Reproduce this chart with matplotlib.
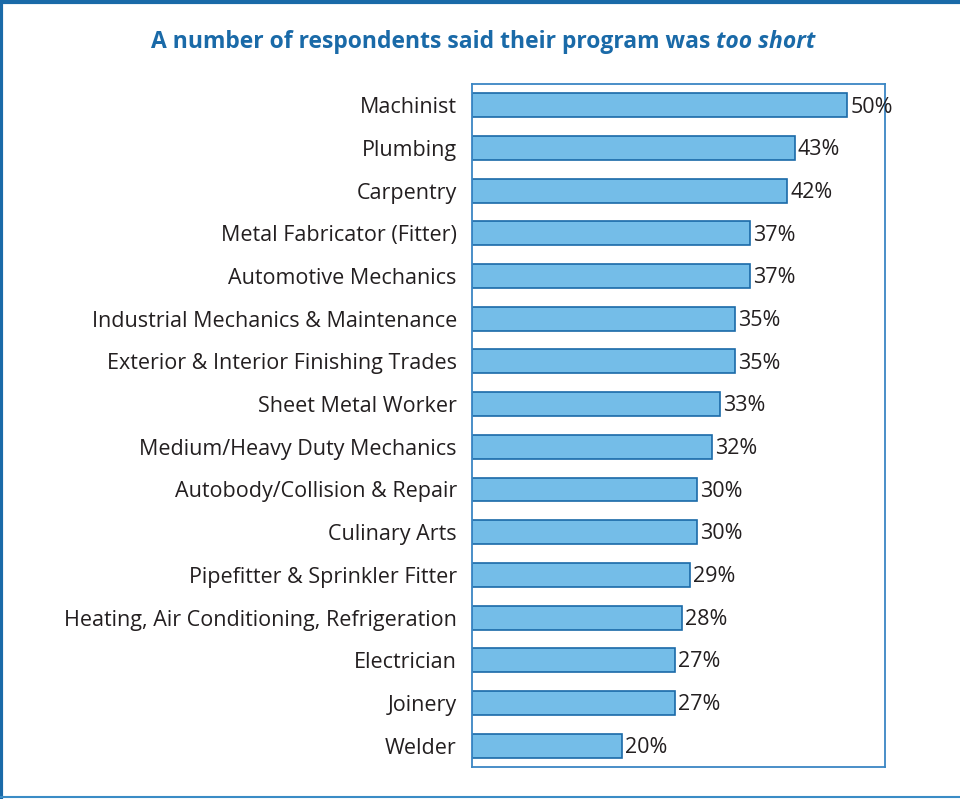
import matplotlib.pyplot as plt
from matplotlib.lines import Line2D

trades = ['Machinist', 'Plumbing', 'Carpentry', 'Metal Fabricator (Fitter)',
          'Automotive Mechanics', 'Industrial Mechanics & Maintenance',
          'Exterior & Interior Finishing Trades', 'Sheet Metal Worker',
          'Medium/Heavy Duty Mechanics', 'Autobody/Collision & Repair',
          'Culinary Arts', 'Pipefitter & Sprinkler Fitter',
          'Heating, Air Conditioning, Refrigeration', 'Electrician',
          'Joinery', 'Welder']
too_short = [50, 43, 42, 37, 37, 35, 35, 33, 32, 30, 30, 29, 28, 27, 27, 20]

plt.rcParams['font.family'] = ['Open Sans', 'DejaVu Sans']

blue = '#1a6aa8'
bar_fill = '#74bde8'

fig = plt.figure(figsize=(9.6, 7.99), dpi=100)
ax = fig.add_axes([0.4917, 0.0401, 0.4302, 0.8548])

ypos = list(range(len(trades)))
ax.barh(ypos, too_short, height=0.56, color=bar_fill, edgecolor=blue, linewidth=1.2)
for y, v in zip(ypos, too_short):
    ax.text(v + 0.4, y + 0.04, f'{v}%', va='center', ha='left', fontsize=15.5, color='#231f20')

ax.set_xlim(0, 55)
ax.set_ylim(len(trades) - 0.5, -0.5)
ax.set_yticks(ypos)
ax.set_yticklabels(trades, fontsize=15.5, color='#231f20')
ax.tick_params(axis='y', length=0, pad=11)
ax.set_xticks([])
for s in ax.spines.values():
    s.set_color('#3a86c4')
    s.set_linewidth(1.3)

# title: upright part followed by an italic tail, centred as a whole
ty = 0.947
t1 = fig.text(0, ty, 'A number of respondents said their program was ', ha='left', va='center',
              fontsize=16.5, fontweight='bold', color=blue)
t2 = fig.text(0, ty, 'too short', ha='left', va='center',
              fontsize=16.5, fontweight='bold', fontstyle='italic', color=blue)
fig.canvas.draw()
w1 = t1.get_window_extent().width / fig.bbox.width
w2 = t2.get_window_extent().width / fig.bbox.width
x0 = 0.503 - (w1 + w2) / 2
t1.set_x(x0)
t2.set_x(x0 + w1)

# outer frame
fig.lines.append(Line2D([0, 1], [0.998, 0.998], transform=fig.transFigure, color=blue, lw=3))
fig.lines.append(Line2D([0.0015, 0.0015], [0, 1], transform=fig.transFigure, color=blue, lw=3))
fig.lines.append(Line2D([0, 1], [0.003, 0.003], transform=fig.transFigure, color='#3a8cc6', lw=1.5))

fig.savefig('out.png', dpi=100)
